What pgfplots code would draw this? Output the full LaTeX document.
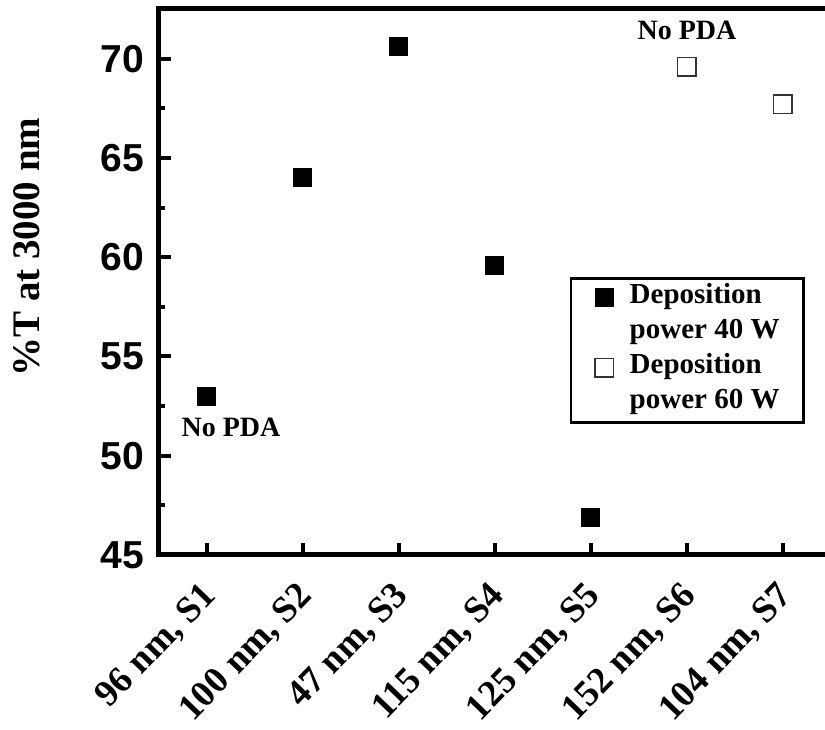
\documentclass[border=0pt]{standalone}
\usepackage{pgfplots}
\pgfplotsset{compat=1.18}
\usepackage{fontspec}
\setmainfont{Liberation Serif}
\newfontfamily\arialfont{Liberation Sans}
\begin{document}
\begin{tikzpicture}
\begin{axis}[
  name=ax, at={(0,0)}, anchor=south west,
  scale only axis, width=672pt, height=546pt,
  xmin=0.5, xmax=7.5, ymin=45, ymax=72.5,
  axis line style={line width=5pt},
  /pgf/number format/assume math mode=true,
  xtick={1,...,7},
  xticklabels={{96 nm, S1},{100 nm, S2},{47 nm, S3},{115 nm, S4},{125 nm, S5},{152 nm, S6},{104 nm, S7}},
  xticklabel style={xshift=-7pt, yshift=-25pt, rotate=46, anchor=north east, inner sep=0pt, font=\bfseries\fontsize{37}{37}\selectfont},
  ytick={45,50,...,70},
  minor y tick num=1,
  yticklabel style={xshift=-15pt, inner sep=0pt, font=\arialfont\bfseries\fontsize{39}{39}\selectfont},
  tick align=inside, xtick pos=left, ytick pos=left,
  major tick length=12pt, minor tick length=6pt,
  tick style={black, line width=4pt},
  ylabel={\%T at 3000 nm},
  ylabel style={at={(axis description cs:-0.1964,0.564)}, anchor=center, font=\bfseries\fontsize{39}{39}\selectfont},
  legend style={at={(axis description cs:0.6116,0.509)}, anchor=north west, draw=black, line width=2.5pt,
    font=\bfseries\fontsize{29}{29}\selectfont, row sep=0pt, inner xsep=24pt, inner ysep=2pt,
    nodes={inner sep=0pt, text height=23pt, text depth=12pt},
    /tikz/every odd column/.append style={column sep=16pt}},
  legend image post style={xshift=-9pt},
  legend cell align=left,
]
\addplot[only marks, mark=square*, mark size=9pt, mark options={black, fill=black, line width=1pt}]
  coordinates {(1,53.0) (2,64.0) (3,70.6) (4,59.6) (5,46.9)};
\addlegendentry{Deposition}
\addlegendimage{empty legend}
\addlegendentry{power 40 W}
\addplot[only marks, mark=square, mark size=9.25pt, mark options={black!80, fill=white, line width=1.5pt}]
  coordinates {(6,69.6) (7,67.7)};
\addlegendentry{Deposition}
\addlegendimage{empty legend}
\addlegendentry{power 60 W}
\node[font=\bfseries\fontsize{28}{28}\selectfont] at (axis cs:6,71.4) {No PDA};
\node[font=\bfseries\fontsize{28}{28}\selectfont] at (axis cs:1.25,51.45) {No PDA};
\end{axis}
\pgfresetboundingbox
\useasboundingbox ([xshift=-159pt,yshift=-175pt]ax.south west) rectangle ([xshift=666pt,yshift=555pt]ax.south west);
\end{tikzpicture}
\end{document}
